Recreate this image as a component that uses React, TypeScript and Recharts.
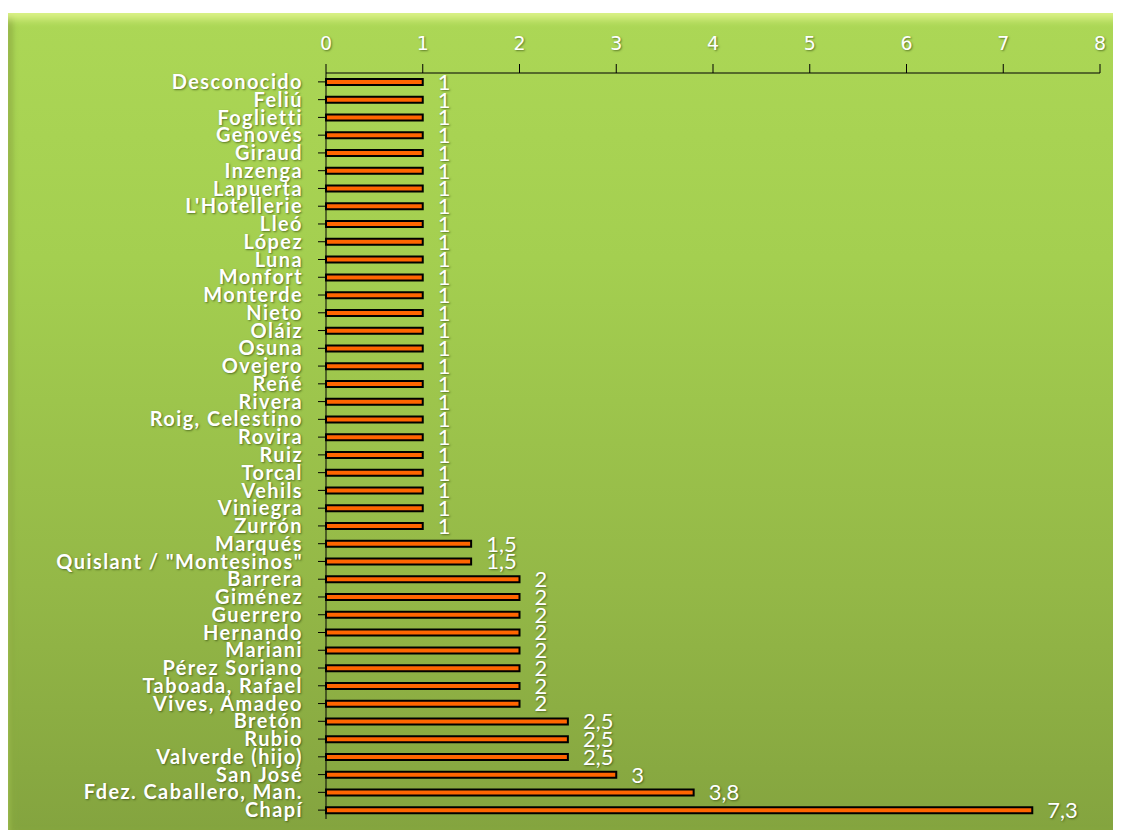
import React from 'react';
import { BarChart, Bar, XAxis, YAxis, LabelList } from 'recharts';

const names = [
  'Desconocido', 'Feliú', 'Foglietti', 'Genovés', 'Giraud', 'Inzenga', 'Lapuerta',
  "L'Hotellerie", 'Lleó', 'López ', 'Luna', 'Monfort', 'Monterde', 'Nieto', 'Oláiz',
  'Osuna', 'Ovejero', 'Reñé', 'Rivera', 'Roig, Celestino', 'Rovira', 'Ruiz', 'Torcal',
  'Vehils', 'Viniegra', 'Zurrón', 'Marqués', 'Quislant / "Montesinos"', 'Barrera',
  'Giménez', 'Guerrero', 'Hernando', 'Mariani', 'Pérez Soriano', 'Taboada, Rafael',
  'Vives, Amadeo', 'Bretón', 'Rubio', 'Valverde (hijo)', 'San José',
  'Fdez. Caballero, Man.', 'Chapí',
];

const values = [
  1, 1, 1, 1, 1, 1, 1, 1, 1, 1, 1, 1, 1, 1, 1, 1, 1, 1, 1, 1, 1, 1, 1, 1, 1, 1,
  1.5, 1.5, 2, 2, 2, 2, 2, 2, 2, 2, 2.5, 2.5, 2.5, 3, 3.8, 7.3,
];

const xTicks = [0, 1, 2, 3, 4, 5, 6, 7, 8];

const data = names.map((name, i) => ({ name, value: values[i] }));

const fmt = (v: number) => String(v).replace('.', ',');

const shadow = '1px 1px 2px rgba(40,60,10,0.6)';

const App: React.FC = () => {
  return (
    <div
      style={{
        marginTop: 5,
        width: 1113,
        height: 817,
        background: 'linear-gradient(to bottom, #acd756 0%, #a4cf50 30%, #94b847 70%, #84a43f 100%)',
        boxShadow: 'inset 0 10px 8px -4px #def48a, inset 6px 0 6px -2px #8cab40',
      }}
    >
      <BarChart
        layout="vertical"
        width={1113}
        height={817}
        data={data}
        margin={{ top: 0, right: 21, bottom: 11, left: 0 }}
        barCategoryGap={0}
      >
        <XAxis
          type="number"
          orientation="top"
          domain={[0, 8]}
          ticks={xTicks}
          interval={0}
          height={60}
          stroke="#000"
          tickSize={9}
          tickLine={{ stroke: '#000' }}
          tick={{ fill: '#ffffff', fontFamily: 'DejaVu Sans', fontSize: 19, style: { textShadow: shadow } }}
          tickMargin={14}
        />
        <YAxis
          type="category"
          dataKey="name"
          width={318}
          interval={0}
          stroke="#000"
          tickSize={8}
          tickMargin={15}
          tick={{
            fill: '#ffffff',
            fontFamily: 'Lato',
            fontWeight: 700,
            fontSize: 20,
            letterSpacing: 1.4,
            style: { textShadow: shadow },
          }}
        />
        <Bar
          dataKey="value"
          fill="#ff6600"
          stroke="#000"
          strokeWidth={2}
          barSize={6}
          isAnimationActive={false}
        >
          <LabelList
            dataKey="value"
            position="right"
            offset={15}
            formatter={(v: number) => fmt(v)}
            style={{ fill: '#ffffff', fontFamily: 'Lato', fontSize: 22, textShadow: shadow }}
          />
        </Bar>
      </BarChart>
    </div>
  );
};

export default App;
